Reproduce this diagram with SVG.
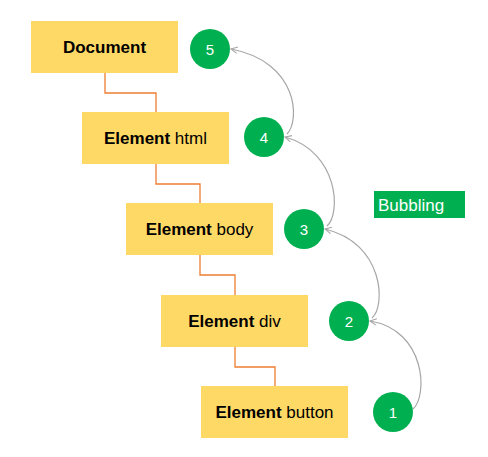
<svg xmlns="http://www.w3.org/2000/svg" width="488" height="457" viewBox="0 0 488 457">
<style>
.box{fill:#FFD966;}
.lbl{font-family:"Liberation Sans",Arial,sans-serif;font-size:17px;fill:#000;text-anchor:middle;}
.b{font-weight:bold;}
.circ{fill:#00B050;}
.num{font-family:"Liberation Sans",Arial,sans-serif;font-size:15px;fill:#fff;text-anchor:middle;}
.tree{fill:none;stroke:#ED7D31;stroke-width:1.3;}
.bub{fill:none;stroke:#A6A6A6;stroke-width:1.2;marker-end:url(#arr);}
</style>
<defs>
<marker id="arr" viewBox="0 0 10 10" refX="9" refY="5" markerWidth="8" markerHeight="8" orient="auto" markerUnits="userSpaceOnUse">
<path d="M1,1 L9,5 L1,9" fill="none" stroke="#A6A6A6" stroke-width="1.3"/>
</marker>
</defs>
<rect width="488" height="457" fill="#fff"/>
<g id="connectors">
<path class="tree" d="M105,73 V93 H156 V112"/>
<path class="tree" d="M156,164 V184 H200 V203"/>
<path class="tree" d="M200,255 V275 H235 V295"/>
<path class="tree" d="M235,347 V367 H275 V386"/>
<path class="bub" d="M413,409 C428,396 426,330 370,321"/>
<path class="bub" d="M372,318 C386,306 384,243 325,229"/>
<path class="bub" d="M327,226 C341,214 339,152 285,137"/>
<path class="bub" d="M287,134 C300,121 299,62 231,49"/>
</g>
<g id="document"><rect class="box" x="31" y="21" width="147" height="52"/><text class="lbl b" x="104.5" y="53">Document</text></g>
<g id="html"><rect class="box" x="82" y="112" width="147" height="52"/><text class="lbl" x="155.5" y="144"><tspan class="b">Element</tspan> html</text></g>
<g id="body"><rect class="box" x="126" y="203" width="147" height="52"/><text class="lbl" x="199.5" y="235"><tspan class="b">Element</tspan> body</text></g>
<g id="div"><rect class="box" x="161" y="295" width="147" height="52"/><text class="lbl" x="234.5" y="327"><tspan class="b">Element</tspan> div</text></g>
<g id="button"><rect class="box" x="201" y="386" width="147" height="52"/><text class="lbl" x="274.5" y="418"><tspan class="b">Element</tspan> button</text></g>
<g id="c5"><circle class="circ" cx="210" cy="49" r="20"/><text class="num" x="210" y="54.5">5</text></g>
<g id="c4"><circle class="circ" cx="264" cy="137" r="20"/><text class="num" x="264" y="142.5">4</text></g>
<g id="c3"><circle class="circ" cx="304" cy="229" r="20"/><text class="num" x="304" y="234.5">3</text></g>
<g id="c2"><circle class="circ" cx="349" cy="321" r="20"/><text class="num" x="349" y="326.5">2</text></g>
<g id="c1"><circle class="circ" cx="393" cy="412" r="20"/><text class="num" x="393" y="417.5">1</text></g>
<g id="bubbling"><rect x="374" y="191" width="91" height="27" fill="#00B050"/><text x="378" y="211" font-family="Liberation Sans,Arial,sans-serif" font-size="17" fill="#fff">Bubbling</text></g>
</svg>
